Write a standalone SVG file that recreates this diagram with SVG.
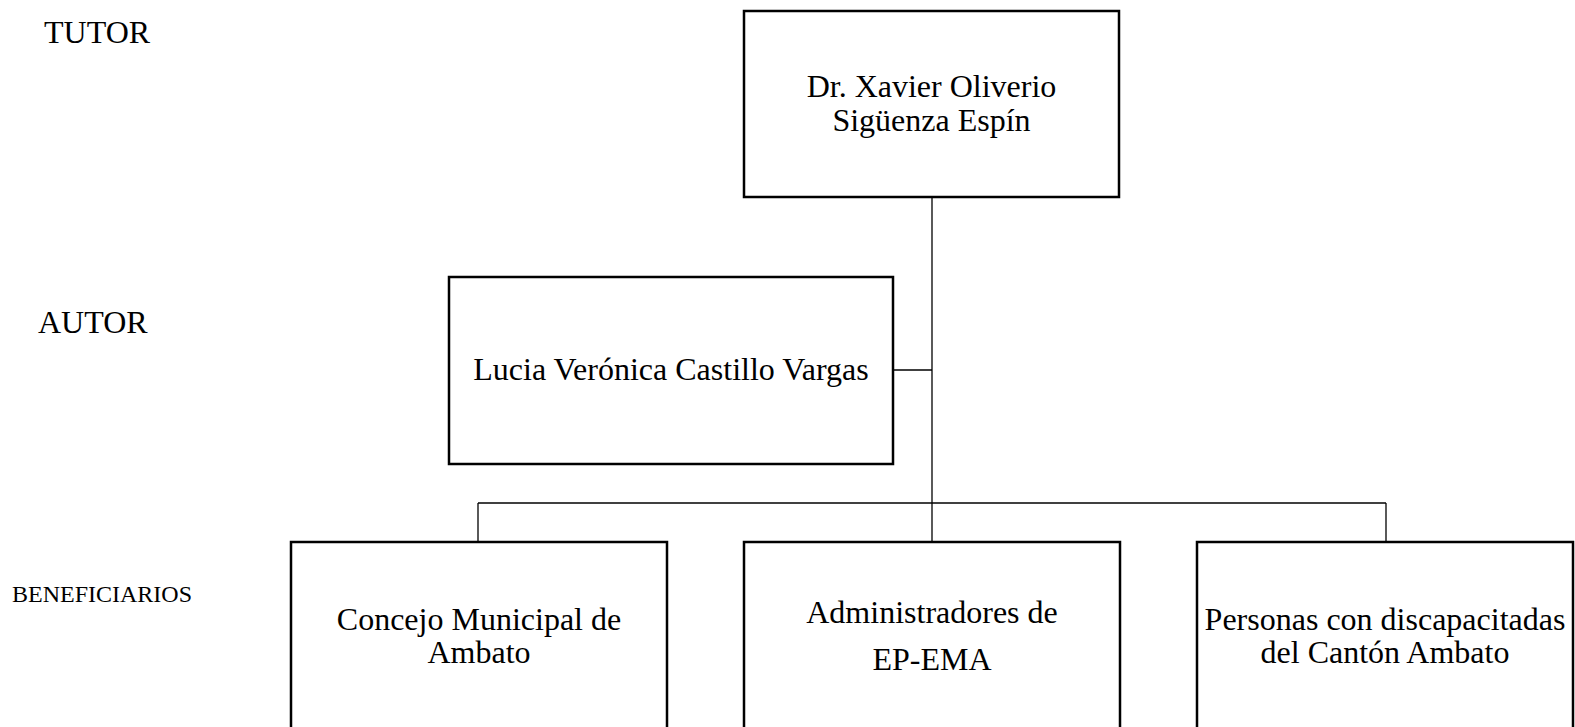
<svg xmlns="http://www.w3.org/2000/svg" width="1575" height="727" viewBox="0 0 1575 727">
<style>
.box{fill:#fff;stroke:#000;stroke-width:2.5}
.ln{stroke:#000;stroke-width:1.3;fill:none}
text{font-family:"Liberation Serif","Times New Roman",serif;fill:#000}
.t{font-size:32px;text-anchor:middle}
.lab{font-size:32px}
</style>
<rect width="1575" height="727" fill="#fff"/>
<g id="labels">
<text class="lab" x="44" y="43">TUTOR</text>
<text class="lab" x="38" y="333">AUTOR</text>
<text x="12" y="602" style="font-size:24px">BENEFICIARIOS</text>
</g>
<g id="connectors">
<line class="ln" x1="932" y1="197" x2="932" y2="542"/>
<line class="ln" x1="893" y1="370" x2="932" y2="370"/>
<line class="ln" x1="478" y1="503" x2="1386" y2="503"/>
<line class="ln" x1="478" y1="503" x2="478" y2="542"/>
<line class="ln" x1="1386" y1="503" x2="1386" y2="542"/>
</g>
<g id="tutor">
<rect class="box" x="744" y="11" width="375" height="186"/>
<text class="t" x="931.5" y="97">Dr. Xavier Oliverio</text>
<text class="t" x="931.5" y="131">Sigüenza Espín</text>
</g>
<g id="autor">
<rect class="box" x="449" y="277" width="444" height="187"/>
<text class="t" x="671" y="380">Lucia Verónica Castillo Vargas</text>
</g>
<g id="concejo">
<rect class="box" x="291" y="542" width="376" height="220"/>
<text class="t" x="479" y="630">Concejo Municipal de</text>
<text class="t" x="479" y="663">Ambato</text>
</g>
<g id="administradores">
<rect class="box" x="744" y="542" width="376" height="220"/>
<text class="t" x="932" y="623">Administradores de</text>
<text class="t" x="932" y="670">EP-EMA</text>
</g>
<g id="personas">
<rect class="box" x="1197" y="542" width="376" height="220"/>
<text class="t" x="1385" y="630">Personas con discapacitadas</text>
<text class="t" x="1385" y="663">del Cantón Ambato</text>
</g>
</svg>
